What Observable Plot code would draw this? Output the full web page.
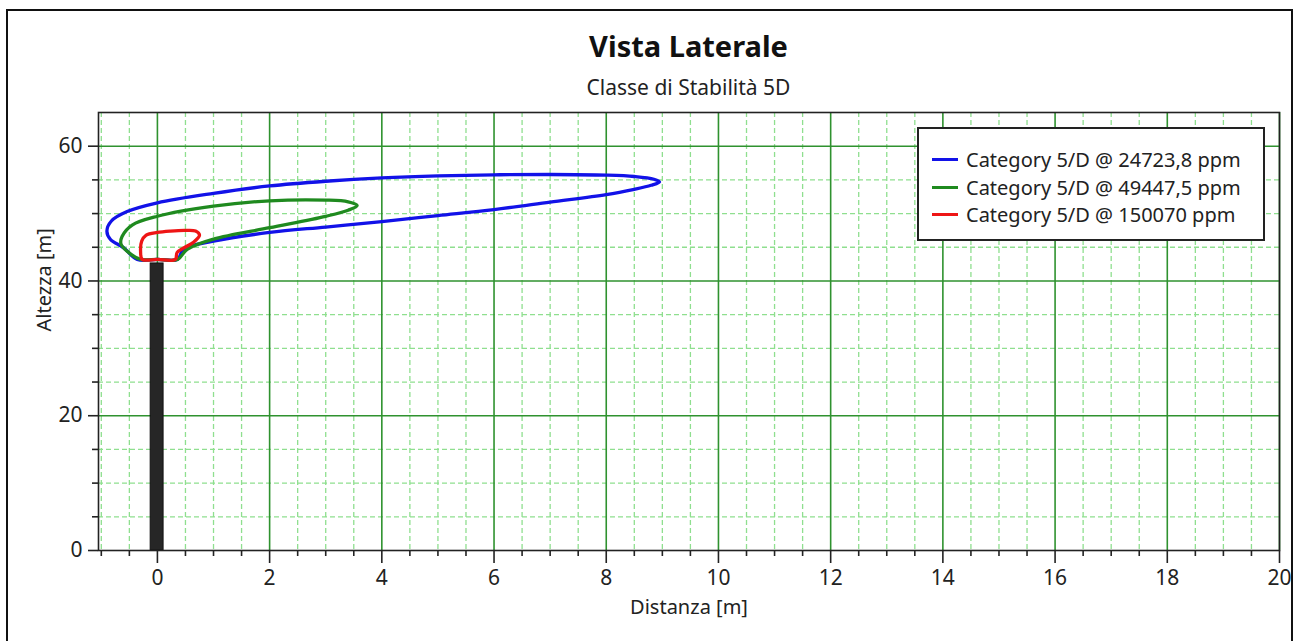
<!DOCTYPE html>
<html>
<head>
<meta charset="utf-8">
<script src="https://cdn.jsdelivr.net/npm/d3@7"></script>
<script src="https://cdn.jsdelivr.net/npm/@observablehq/plot@0.6"></script>
<style>
  html, body { margin: 0; padding: 0; background: #fff; overflow: hidden; }
  #wrap { position: relative; width: 1298px; height: 641px; font-family: "Noto Sans", "Open Sans", sans-serif; color: #222; }
  #border { position: absolute; left: 6px; top: 9px; width: 1287px; height: 700px; border: 2.5px solid #111; box-sizing: border-box; }
  #chart { position: absolute; left: 0; top: 0; }
  #title { position: absolute; left: 98px; width: 1181px; top: 27px; text-align: center; font-size: 29px; font-weight: bold; line-height: 38px; color: #111; }
  #subtitle { position: absolute; left: 98px; width: 1181px; top: 72px; text-align: center; font-size: 21px; line-height: 30px; color: #222; }
  #legend { position: absolute; left: 917px; top: 127px; width: 348px; height: 114px; border: 2px solid #222; box-sizing: border-box; background: #fff; padding-top: 17px; }
  .row { display: flex; align-items: center; height: 27.5px; font-size: 20px; }
  .sw { width: 26px; height: 3px; margin-left: 13px; margin-right: 8px; }
</style>
</head>
<body>
<div id="wrap">
  <div id="border"></div>
  <div id="chart"></div>
  <div id="title"></div>
  <div id="subtitle"></div>
  <div id="legend"></div>
</div>
<script>
const titleText = "Vista Laterale";
const subtitleText = "Classe di Stabilità 5D";
const xLabel = "Distanza [m]";
const yLabel = "Altezza [m]";

const seriesNames = ["Category 5/D @ 24723,8 ppm", "Category 5/D @ 49447,5 ppm", "Category 5/D @ 150070 ppm"];
const seriesColors = ["#1212e8", "#1f8a1f", "#ee1515"];

// contour of 24723,8 ppm  [distance, height]
const blueContour = [
  [-0.36,43.2],[-0.6,44.9],[-0.84,46.2],[-0.9,47.4],[-0.82,48.9],[-0.54,50.3],[0,51.6],
  [1.0,53.0],[2.0,54.1],[3.0,54.8],[4.0,55.3],[5.0,55.6],[6.0,55.75],[7.0,55.8],[8.0,55.7],
  [8.5,55.5],[8.85,55.1],[8.95,54.7],[8.8,54.2],[8.5,53.6],[8.0,52.8],[7.0,51.7],[6.0,50.6],
  [5.0,49.7],[4.0,48.8],[3.0,48.0],[2.0,47.2],[1.0,45.9],[0.46,44.7],[0.36,43.2],[0,43.2]
];
// contour of 49447,5 ppm
const greenContour = [
  [-0.3,43.2],[-0.54,44.4],[-0.65,45.5],[-0.63,46.6],[-0.45,48.3],[0,49.6],[1.0,51.1],
  [2.0,51.9],[3.0,52.0],[3.4,51.75],[3.56,51.2],[3.4,50.5],[3.0,49.6],[2.0,47.9],[1.0,46.2],
  [0.53,44.7],[0.36,43.2],[0,43.2]
];
// contour of 150070 ppm
const redContour = [
  [-0.27,43.2],[-0.3,44.4],[-0.28,45.9],[-0.2,46.8],[0,47.2],[0.23,47.4],[0.5,47.5],
  [0.68,47.4],[0.75,46.8],[0.65,45.8],[0.47,44.9],[0.35,44.2],[0.32,43.2],[0,43.2]
];
// stack (chimney)
const stackX = [-0.12, 0.11];
const stackHeight = 42.6;

const xMajorTicks = [0, 2, 4, 6, 8, 10, 12, 14, 16, 18, 20];
const yMajorTicks = [0, 20, 40, 60];
const xDomain = [-1.05, 20];
const yDomain = [0, 65];

const xMinor = d3.range(-1, 20.001, 0.5).filter(v => !xMajorTicks.includes(v));
const yMinor = d3.range(5, 65, 5).filter(v => !yMajorTicks.includes(v));

const contours = [blueContour, greenContour, redContour];

const lineMarks = contours.map((c, i) =>
  Plot.line(c, {x: d => d[0], y: d => d[1], curve: "catmull-rom-closed", stroke: seriesColors[i], strokeWidth: 3.3})
);

const chart = Plot.plot({
  width: 1298,
  height: 641,
  marginLeft: 98,
  marginRight: 19,
  marginTop: 112,
  marginBottom: 91,
  style: {fontFamily: "'Noto Sans', 'Open Sans', sans-serif", color: "#222", background: "transparent", overflow: "visible"},
  x: {domain: xDomain, label: null},
  y: {domain: yDomain, label: null},
  marks: [
    Plot.ruleX(xMinor, {stroke: "#8fdf8f", strokeWidth: 1.3, strokeDasharray: "5,3"}),
    Plot.ruleY(yMinor, {stroke: "#8fdf8f", strokeWidth: 1.3, strokeDasharray: "5,3"}),
    Plot.ruleX(xMajorTicks, {stroke: "#2f922f", strokeWidth: 1.6}),
    Plot.ruleY(yMajorTicks.filter(v => v > 0), {stroke: "#2f922f", strokeWidth: 1.6}),
    Plot.rectY([stackHeight], {x1: stackX[0], x2: stackX[1], y1: 0, y2: d => d, fill: "#262626", stroke: "#111", strokeWidth: 1}),
    ...lineMarks,
    Plot.frame({stroke: "#222", strokeWidth: 1.6}),
    Plot.axisX(xMinor, {tickSize: 6, tickFormat: () => "", strokeWidth: 1.6, label: null}),
    Plot.axisX(xMajorTicks, {tickSize: 13, tickPadding: 7, fontSize: 21, strokeWidth: 1.6, label: null}),
    Plot.axisY(yMinor, {tickSize: 6, tickFormat: () => "", strokeWidth: 1.6, label: null}),
    Plot.axisY(yMajorTicks, {tickSize: 10, tickPadding: 6, fontSize: 21, strokeWidth: 1.6, label: null}),
    Plot.text([xLabel], {frameAnchor: "bottom", dy: 63, fontSize: 20, fill: "#222"}),
    Plot.text([yLabel], {frameAnchor: "left", dx: -54, rotate: -90, fontSize: 20, fill: "#222"})
  ]
});
document.getElementById("chart").appendChild(chart);

document.getElementById("title").textContent = titleText;
document.getElementById("subtitle").textContent = subtitleText;
const legend = document.getElementById("legend");
seriesNames.forEach((name, i) => {
  const row = document.createElement("div");
  row.className = "row";
  const sw = document.createElement("span");
  sw.className = "sw";
  sw.style.background = seriesColors[i];
  const t = document.createElement("span");
  t.textContent = name;
  row.appendChild(sw);
  row.appendChild(t);
  legend.appendChild(row);
});
</script>
</body>
</html>
